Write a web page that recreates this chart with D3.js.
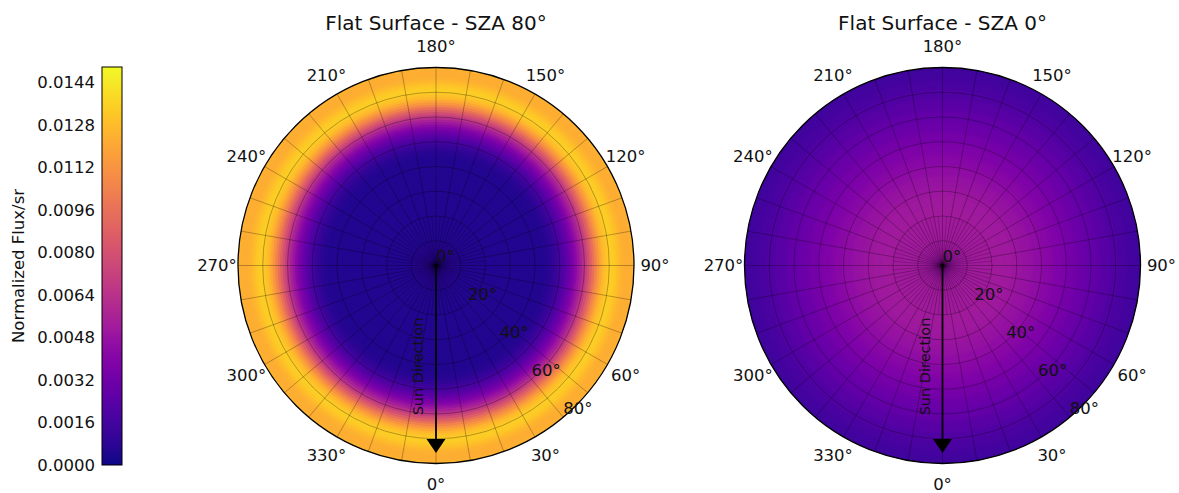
<!DOCTYPE html>
<html><head><meta charset="utf-8">
<script src="https://cdn.jsdelivr.net/npm/d3@7"></script>
<style>
html,body{margin:0;padding:0;background:#fff;}
svg{display:block;font-family:"DejaVu Sans",sans-serif;}
</style></head>
<body><svg id="chart" width="1179" height="493"></svg>
<script>
// ---------------- data ----------------
const panelTitles = ["Flat Surface - SZA 80°", "Flat Surface - SZA 0°"];
// normalized flux per 1° zenith bin (0–1°, 1–2°, … 79–80°)
const fluxSZA80 = [
  0.0006,0.0006,0.0006,0.0006,0.0006,0.0006,0.0006,0.0006,0.0006,0.0006,
  0.0005,0.0005,0.0005,0.0005,0.0005,0.0005,0.0005,0.0005,0.0005,0.0005,
  0.0005,0.0005,0.0005,0.0005,0.0005,0.0005,0.0005,0.0005,0.0005,0.0005,
  0.0005,0.0005,0.0005,0.0005,0.0005,0.0005,0.0005,0.0005,0.0005,0.0005,
  0.0005,0.0005,0.0005,0.0005,0.0006,0.0007,0.0008,0.0010,0.0012,0.0015,
  0.0018,0.0021,0.0025,0.0029,0.0033,0.0038,0.0043,0.0049,0.0055,0.0062,
  0.0070,0.0078,0.0087,0.0096,0.0105,0.0113,0.0120,0.0126,0.0130,0.0133,
  0.0135,0.0134,0.0132,0.0129,0.0126,0.0124,0.0123,0.0123,0.0123,0.0124
];
const fluxSZA0 = [
  0.0045,0.0046,0.0047,0.0048,0.0049,0.0050,0.0050,0.0051,0.0051,0.0051,
  0.0052,0.0052,0.0052,0.0052,0.0052,0.0052,0.0052,0.0052,0.0052,0.0052,
  0.0052,0.0052,0.0052,0.0052,0.0051,0.0051,0.0051,0.0051,0.0050,0.0050,
  0.0049,0.0049,0.0048,0.0048,0.0047,0.0047,0.0046,0.0045,0.0045,0.0044,
  0.0043,0.0042,0.0042,0.0041,0.0040,0.0039,0.0038,0.0038,0.0037,0.0036,
  0.0035,0.0034,0.0034,0.0033,0.0032,0.0031,0.0030,0.0030,0.0029,0.0028,
  0.0027,0.0027,0.0026,0.0025,0.0024,0.0023,0.0023,0.0022,0.0021,0.0020,
  0.0020,0.0019,0.0018,0.0018,0.0017,0.0016,0.0016,0.0015,0.0015,0.0014
];
const azimuthLabels = [0,30,60,90,120,150,180,210,240,270,300,330];
const zenithLabels = [0,20,40,60,80];
const zenithRings = [10,20,30,40,50,60,70];
const colorbarTicks = [0,0.0016,0.0032,0.0048,0.0064,0.0080,0.0096,0.0112,0.0128,0.0144];
const fluxMax = 0.0150;
const zenithMax = 80;

// ---------------- layout ----------------
const svg = d3.select("#chart");
const R = 198;
const centers = [[436, 265.5], [942.5, 265.5]];
const color = d3.scaleSequential(d3.interpolatePlasma).domain([0, fluxMax]);
const rScale = d3.scaleLinear().domain([0, zenithMax]).range([0, R]);
const toRad = d => d * Math.PI / 180;
// theta zero at bottom, counter-clockwise on screen
const pt = (phiDeg, r) => [r * Math.sin(toRad(phiDeg)), r * Math.cos(toRad(phiDeg))];

const panelsData = [fluxSZA80, fluxSZA0];

panelsData.forEach((vals, pi) => {
  const [cx, cy] = centers[pi];
  const g = svg.append("g").attr("transform", `translate(${cx},${cy})`);

  // cells: one disc per zenith bin, drawn outermost first so each bin shows as an annulus
  const cells = vals.map((v, i) => ({v, i})).reverse();
  g.selectAll("circle.cell").data(cells).join("circle")
    .attr("class", "cell")
    .attr("r", d => rScale(d.i + 1))
    .attr("fill", d => color(d.v));

  // grid: rings
  g.selectAll("circle.ring").data(zenithRings).join("circle")
    .attr("class", "ring")
    .attr("r", d => rScale(d)).attr("fill", "none")
    .attr("stroke", "#000").attr("stroke-opacity", 0.35).attr("stroke-width", 0.8);
  // grid: spokes every 10°
  const spokes = d3.range(0, 360, 10);
  g.selectAll("line.spoke").data(spokes).join("line")
    .attr("class", "spoke")
    .attr("x1", 0).attr("y1", 0)
    .attr("x2", d => pt(d, R)[0]).attr("y2", d => pt(d, R)[1])
    .attr("stroke", "#000").attr("stroke-opacity", 0.35).attr("stroke-width", 0.8);
  const fine = d3.range(5, 360, 10);
  g.selectAll("line.fine").data(fine).join("line")
    .attr("class", "fine")
    .attr("x1", 0).attr("y1", 0)
    .attr("x2", d => pt(d, rScale(20))[0]).attr("y2", d => pt(d, rScale(20))[1])
    .attr("stroke", "#000").attr("stroke-opacity", 0.28).attr("stroke-width", 0.7);

  // outer border
  g.append("circle").attr("r", R).attr("fill", "none")
    .attr("stroke", "#000").attr("stroke-width", 1.3);

  // azimuth labels
  g.selectAll("text.az").data(azimuthLabels).join("text")
    .attr("class", "az")
    .attr("x", d => pt(d, 219)[0]).attr("y", d => pt(d, 219)[1])
    .attr("text-anchor", "middle").attr("dominant-baseline", "central")
    .attr("font-size", 16.5).attr("fill", "#111")
    .text(d => d + "°");

  // zenith labels
  g.selectAll("text.zen").data(zenithLabels).join("text")
    .attr("class", "zen")
    .attr("x", d => pt(40, rScale(d))[0]).attr("y", d => pt(40, rScale(d))[1] - 9)
    .attr("text-anchor", "start").attr("dominant-baseline", "central")
    .attr("font-size", 16.5).attr("fill", "#111")
    .text(d => d + "°");

  // sun direction arrow
  g.append("line").attr("x1", 0).attr("y1", 0).attr("x2", 0).attr("y2", 175)
    .attr("stroke", "#000").attr("stroke-width", 1.8);
  g.append("path").attr("d", "M-9.5,173.5 L9.5,173.5 L0,187.5 Z").attr("fill", "#000");
  g.append("text").attr("transform", "translate(-18,101) rotate(-90)")
    .attr("text-anchor", "middle").attr("dominant-baseline", "central")
    .attr("font-size", 14.5).attr("fill", "#111").text("Sun Direction");

  // title
  svg.append("text").attr("x", cx).attr("y", 23)
    .attr("text-anchor", "middle").attr("dominant-baseline", "central")
    .attr("font-size", 20).attr("fill", "#111").text(panelTitles[pi]);
});

// ---------------- colorbar ----------------
const cbX = 102, cbW = 20, cbTop = 67, cbBot = 465;
const cbScale = d3.scaleLinear().domain([0, fluxMax]).range([cbBot, cbTop]);
const defs = svg.append("defs");
const grad = defs.append("linearGradient").attr("id", "cbgrad")
  .attr("x1", 0).attr("y1", 1).attr("x2", 0).attr("y2", 0);
d3.range(0, 1.0001, 0.02).forEach(t => {
  grad.append("stop").attr("offset", t).attr("stop-color", d3.interpolatePlasma(t));
});
svg.append("rect").attr("x", cbX).attr("y", cbTop).attr("width", cbW).attr("height", cbBot - cbTop)
  .attr("fill", "url(#cbgrad)").attr("stroke", "#000").attr("stroke-width", 1);
svg.selectAll("text.cbt").data(colorbarTicks).join("text")
  .attr("class", "cbt")
  .attr("x", 95).attr("y", d => cbScale(d))
  .attr("text-anchor", "end").attr("dominant-baseline", "central")
  .attr("font-size", 16.5).attr("fill", "#111")
  .text(d => d3.format(".4f")(d));
svg.append("text").attr("transform", `translate(18,${(cbTop + cbBot) / 2}) rotate(-90)`)
  .attr("text-anchor", "middle").attr("dominant-baseline", "central")
  .attr("font-size", 16.5).attr("fill", "#111").text("Normalized Flux/sr");
</script>
</body></html>
